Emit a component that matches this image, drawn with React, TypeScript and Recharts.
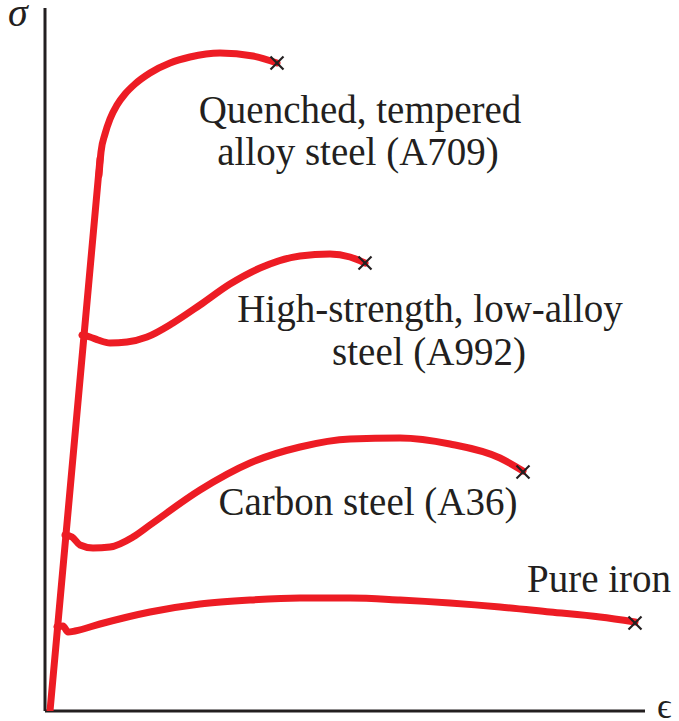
import React from 'react';
import { ComposedChart, Line, Scatter, XAxis, YAxis, ReferenceLine } from 'recharts';

// strain (e) and stress (s), arbitrary units
const elastic = [
  { e: 5, s: 0 }, { e: 55, s: 552 },
];

const quenchedAlloy = [
  { e: 54, s: 536 }, { e: 56, s: 559 }, { e: 60, s: 577 }, { e: 65, s: 592 },
  { e: 72, s: 606 }, { e: 80, s: 617 }, { e: 90, s: 627 }, { e: 105, s: 638 },
  { e: 125, s: 648 }, { e: 145, s: 654 }, { e: 175, s: 658 }, { e: 208, s: 655 },
  { e: 232, s: 648 },
];

const highStrength = [
  { e: 37, s: 376 }, { e: 45, s: 374 }, { e: 53, s: 371 },
  { e: 65, s: 368 }, { e: 82, s: 369 }, { e: 102, s: 374 }, { e: 128, s: 388 },
  { e: 155, s: 406 }, { e: 185, s: 427 }, { e: 215, s: 443 }, { e: 255, s: 455 },
  { e: 285, s: 457 }, { e: 305, s: 454 }, { e: 320, s: 448 },
];

const carbonSteel = [
  { e: 20, s: 176 }, { e: 27, s: 174 }, { e: 35, s: 166 },
  { e: 48, s: 163 }, { e: 65, s: 164 }, { e: 88, s: 174 }, { e: 105, s: 186 },
  { e: 155, s: 221 }, { e: 205, s: 248 }, { e: 255, s: 264 }, { e: 305, s: 272 },
  { e: 355, s: 273 }, { e: 405, s: 267 }, { e: 455, s: 253 }, { e: 478, s: 240 },
];

const pureIron = [
  { e: 12, s: 84 }, { e: 18, s: 85 }, { e: 23, s: 79 },
  { e: 30, s: 80 }, { e: 55, s: 87 }, { e: 105, s: 99 }, { e: 155, s: 107 },
  { e: 205, s: 111 }, { e: 255, s: 113 }, { e: 305, s: 113 }, { e: 355, s: 111 },
  { e: 405, s: 108 }, { e: 455, s: 104 }, { e: 505, s: 99 }, { e: 555, s: 94 },
  { e: 590, s: 89 },
];

const fractures = [
  { e: 232, s: 648 }, { e: 320, s: 448 }, { e: 478, s: 239 }, { e: 590, s: 88 },
];

const RED = '#ED1C24';
const INK = '#231F20';
const SERIF = "'Liberation Serif', 'Times New Roman', Times, 'DejaVu Serif', serif";

const Cross = (props: any) => {
  const { cx, cy } = props;
  const r = 6.5;
  return (
    <g stroke={INK} strokeWidth={2.2}>
      <line x1={cx - r} y1={cy - r} x2={cx + r} y2={cy + r} />
      <line x1={cx - r} y1={cy + r} x2={cx + r} y2={cy - r} />
    </g>
  );
};

const Label = ({ x, y, children, size = 39, italic = false, anchor = 'middle' }: any) => (
  <text
    x={x}
    y={y}
    textAnchor={anchor}
    fontFamily={SERIF}
    fontSize={size}
    fontStyle={italic ? 'italic' : 'normal'}
    fill={INK}
  >
    {children}
  </text>
);

export default function App() {
  return (
    <div style={{ position: 'absolute', left: 0, top: 0, width: 679, height: 721, background: '#fff' }}>
      <ComposedChart width={679} height={721} margin={{ top: 8, right: 34, bottom: 10, left: 45 }}>
        <XAxis type="number" dataKey="e" domain={[0, 600]} hide allowDataOverflow />
        <YAxis type="number" dataKey="s" domain={[0, 703]} hide allowDataOverflow />
        <ReferenceLine segment={[{ x: 0, y: 0 }, { x: 0, y: 703 }]} stroke={INK} strokeWidth={3} />
        <ReferenceLine segment={[{ x: 0, y: 0 }, { x: 600, y: 0 }]} stroke={INK} strokeWidth={3} />
        <Line
          data={elastic}
          dataKey="s"
          type="linear"
          stroke={RED}
          strokeWidth={7}
          strokeLinecap="round"
          dot={false}
          activeDot={false}
          isAnimationActive={false}
        />
        {[pureIron, carbonSteel, highStrength, quenchedAlloy].map((d, i) => (
          <Line
            key={i}
            data={d}
            dataKey="s"
            type="monotone"
            stroke={RED}
            strokeWidth={7}
            strokeLinecap="round"
            strokeLinejoin="round"
            dot={false}
            activeDot={false}
            isAnimationActive={false}
          />
        ))}
        <Scatter data={fractures} dataKey="s" shape={<Cross />} isAnimationActive={false} />
      </ComposedChart>
      <svg width={679} height={721} style={{ position: 'absolute', left: 0, top: 0, pointerEvents: 'none' }}>
        <Label x={360} y={123}>Quenched, tempered</Label>
        <Label x={358} y={165}>alloy steel (A709)</Label>
        <Label x={430} y={322}>High-strength, low-alloy</Label>
        <Label x={429} y={365}>steel (A992)</Label>
        <Label x={368} y={515}>Carbon steel (A36)</Label>
        <Label x={599} y={592}>Pure iron</Label>
        <Label x={8} y={26} size={40} italic anchor="start">σ</Label>
        <Label x={657} y={718} size={36} anchor="start">ϵ</Label>
      </svg>
    </div>
  );
}
